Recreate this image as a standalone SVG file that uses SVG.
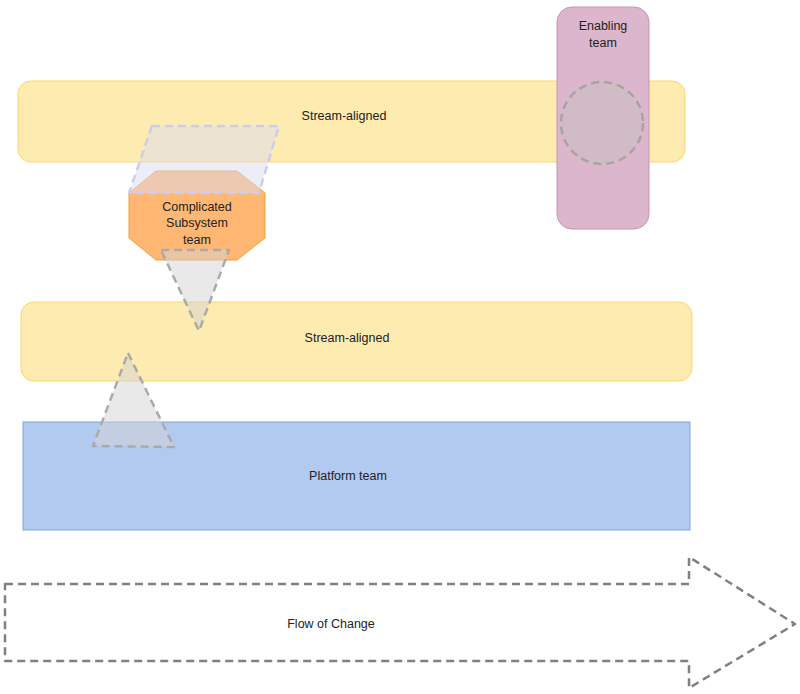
<svg xmlns="http://www.w3.org/2000/svg" width="800" height="694" viewBox="0 0 800 694">
<style>
text{font-family:"Liberation Sans",Arial,sans-serif;font-size:12.5px;fill:#222;text-anchor:middle;dominant-baseline:central}
.stream{fill:#fdebb0;stroke:#fcd56a;stroke-width:1}
.tri{fill:#d4d4d4;fill-opacity:0.5;stroke:#aaaaaa;stroke-width:2.5;stroke-dasharray:8 5;stroke-linejoin:round}
</style>
<rect width="800" height="694" fill="#ffffff"/>
<g id="stream1">
<rect class="stream" x="18" y="81" width="667" height="81" rx="13"/>
<text x="344" y="116">Stream-aligned</text>
</g>
<g id="enabling">
<rect x="557" y="7" width="92" height="222" rx="15" fill="#dbb6cc" stroke="#c795b5" stroke-width="1"/>
<text x="603" y="26">Enabling</text>
<text x="603" y="43">team</text>
<circle cx="602" cy="123" r="41" fill="#c8c0c0" fill-opacity="0.5" stroke="#aaa59c" stroke-width="2.5" stroke-dasharray="8 5"/>
</g>
<g id="complicated">
<polygon points="156,171 237,171 265,193 265,238 237,260 156,260 129,238 129,193" fill="#ffb773" stroke="#f0a030" stroke-width="1"/>
<text x="197" y="207">Complicated</text>
<text x="197" y="223">Subsystem</text>
<text x="197" y="240">team</text>
</g>
<g id="parallelogram">
<polygon points="152,126 279,126 259,193 129,193" fill="#dcdcf0" fill-opacity="0.5" stroke="#ccccee" stroke-width="2.5" stroke-dasharray="8 5" stroke-linejoin="round"/>
</g>
<g id="stream2">
<rect class="stream" x="21" y="302" width="671" height="79" rx="13"/>
<text x="347" y="338">Stream-aligned</text>
</g>
<g id="platform">
<rect x="23" y="422" width="667" height="108" fill="#b2c9f0" stroke="#7ea6e0" stroke-width="1"/>
<text x="348" y="476">Platform team</text>
</g>
<g id="connectors">
<polygon class="tri" points="161,250 229,250 199,331"/>
<polygon class="tri" points="128,353 174,447 93,446"/>
</g>
<g id="flow">
<polygon points="5,584 689,584 689,557 795,624 689,688 689,661 5,661" fill="none" stroke="#808080" stroke-width="2.5" stroke-dasharray="8 5" stroke-linejoin="round"/>
<text x="331" y="624">Flow of Change</text>
</g>
</svg>
